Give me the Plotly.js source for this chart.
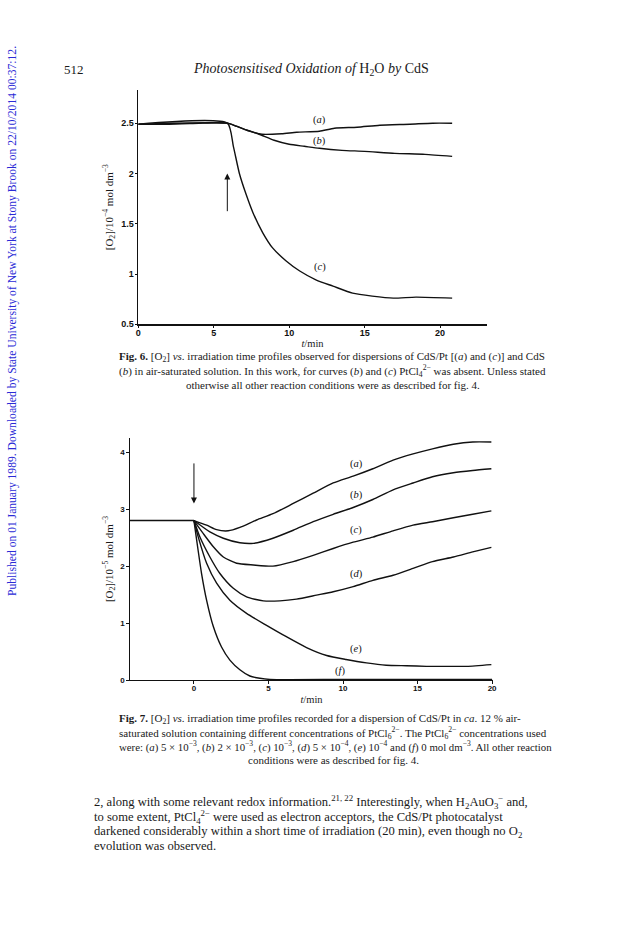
<!DOCTYPE html>
<html>
<head>
<meta charset="utf-8">
<script src="https://cdn.plot.ly/plotly-3.0.1.min.js"></script>
<style>html,body{margin:0;padding:0;background:#fff;}#chart{width:624px;height:936px;}</style>
</head>
<body>
<div id="chart"></div>
<script>
// ---- Fig. 6 data (t/min, [O2]/1e-4 mol dm-3) ----
const fig6_t_a = [0, 2, 4, 5.2, 5.9, 6.5, 7.2, 8.2, 9.5, 10.5, 12, 13, 14.5, 16, 18, 19.5, 20.8];
const fig6_a   = [2.49, 2.49, 2.50, 2.505, 2.50, 2.47, 2.43, 2.39, 2.395, 2.41, 2.42, 2.45, 2.46, 2.48, 2.49, 2.50, 2.50];
const fig6_t_b = [0, 5.9, 6.5, 7.2, 8, 9, 10, 11, 12, 13.5, 15, 17, 19, 20.8];
const fig6_b   = [2.49, 2.50, 2.47, 2.43, 2.39, 2.33, 2.29, 2.27, 2.25, 2.23, 2.22, 2.20, 2.19, 2.17];
const fig6_t_c = [0, 5.9, 6.3, 6.7, 7.15, 7.6, 8.25, 8.9, 9.8, 10.7, 11.8, 12.9, 14.2, 15.5, 16.9, 18.4, 20.8];
const fig6_c   = [2.49, 2.50, 2.27, 2.00, 1.79, 1.61, 1.41, 1.26, 1.13, 1.03, 0.94, 0.88, 0.81, 0.78, 0.76, 0.77, 0.76];
const fig6_labels = ["(<i>a</i>)", "(<i>b</i>)", "(<i>c</i>)"];
const fig6_label_t = [12.0, 12.0, 12.05];
const fig6_label_y = [2.53, 2.32, 1.07];
const fig6_arrow = {t: 5.9, from: 1.61, to: 2.0};
const fig6_xticks = [0, 5, 10, 15, 20];
const fig6_yticks = [0.5, 1, 1.5, 2, 2.5];
const fig6_yticktext = ["0.5", "1", "1.5", "2", "2.5"];

// ---- Fig. 7 data (t/min, [O2]/1e-5 mol dm-3) ----
const fig7_pre_t = [-4.29, -2, 0];
const fig7_pre   = [2.80, 2.80, 2.80];
const fig7_t_a = [0, 0.85, 1.52, 2.3, 3.08, 4.2, 5.3, 6.66, 8.0, 9.34, 10.68, 12.0, 13.36, 14.7, 16.0, 17.4, 18.7, 19.95];
const fig7_a   = [2.80, 2.72, 2.64, 2.62, 2.68, 2.81, 2.92, 3.10, 3.28, 3.46, 3.58, 3.71, 3.86, 3.97, 4.06, 4.14, 4.18, 4.18];
const fig7_t_b = [0, 1.07, 1.97, 3.08, 3.98, 5.3, 6.66, 8.0, 9.34, 10.68, 12.0, 13.36, 14.7, 16.0, 17.4, 18.7, 19.95];
const fig7_b   = [2.80, 2.60, 2.49, 2.41, 2.40, 2.49, 2.63, 2.78, 2.91, 3.03, 3.17, 3.34, 3.46, 3.57, 3.64, 3.68, 3.71];
const fig7_t_c = [0, 0.63, 1.3, 1.97, 2.86, 3.98, 5.3, 6.66, 8.0, 9.34, 10.68, 12.0, 13.36, 14.7, 16.0, 17.4, 18.7, 19.95];
const fig7_c   = [2.80, 2.57, 2.34, 2.16, 2.05, 2.02, 2.00, 2.08, 2.19, 2.31, 2.42, 2.51, 2.62, 2.72, 2.78, 2.85, 2.91, 2.97];
const fig7_t_d = [0, 0.4, 1.07, 1.74, 2.64, 3.53, 4.65, 5.76, 6.88, 8.22, 9.34, 10.68, 12.0, 13.36, 14.7, 16.0, 17.4, 18.7, 19.95];
const fig7_d   = [2.80, 2.51, 2.16, 1.87, 1.61, 1.46, 1.39, 1.39, 1.42, 1.49, 1.55, 1.64, 1.75, 1.84, 1.96, 2.08, 2.16, 2.25, 2.33];
const fig7_t_e = [0, 0.29, 0.85, 1.52, 2.41, 3.53, 4.87, 6.2, 7.55, 8.9, 10.2, 11.57, 12.9, 14.25, 15.6, 16.9, 18.3, 19.95];
const fig7_e   = [2.80, 2.51, 2.05, 1.70, 1.40, 1.17, 0.96, 0.76, 0.57, 0.43, 0.36, 0.30, 0.26, 0.25, 0.24, 0.24, 0.24, 0.27];
const fig7_t_f = [0, 0.18, 0.51, 0.85, 1.3, 1.85, 2.41, 3.08, 3.75, 4.42, 5.1, 10, 15, 20];
const fig7_f   = [2.80, 2.46, 1.87, 1.40, 0.94, 0.58, 0.35, 0.18, 0.07, 0.03, 0.01, 0.01, 0.01, 0.01];
const fig7_labels = ["(<i>a</i>)", "(<i>b</i>)", "(<i>c</i>)", "(<i>d</i>)", "(<i>e</i>)", "(<i>f</i>)"];
const fig7_label_t = [10.9, 10.9, 10.9, 10.9, 10.9, 9.8];
const fig7_label_y = [3.80, 3.25, 2.63, 1.86, 0.54, 0.15];
const fig7_arrow = {t: 0, from: 3.83, to: 3.1};
const fig7_xticks = [0, 5, 10, 15, 20];
const fig7_yticks = [0, 1, 2, 3, 4];

// ---- page text ----
const pageNumber = "512";
const runningHead = "<i>Photosensitised Oxidation of</i> H<sub>2</sub>O <i>by</i> CdS";
const sideNote = "Published on 01 January 1989. Downloaded by State University of New York at Stony Brook on 22/10/2014 00:37:12.";
const fig6Caption = [
  "<b>Fig. 6.</b> [O<sub>2</sub>] <i>vs</i>. irradiation time profiles observed for dispersions of CdS/Pt [(<i>a</i>) and (<i>c</i>)] and CdS",
  "(<i>b</i>) in air-saturated solution. In this work, for curves (<i>b</i>) and (<i>c</i>) PtCl<sub>4</sub><sup>2−</sup> was absent. Unless stated",
  "otherwise all other reaction conditions were as described for fig. 4."
];
const fig7Caption = [
  "<b>Fig. 7.</b> [O<sub>2</sub>] <i>vs</i>. irradiation time profiles recorded for a dispersion of CdS/Pt in <i>ca</i>. 12 % air-",
  "saturated solution containing different concentrations of PtCl<sub>6</sub><sup>2−</sup>. The PtCl<sub>6</sub><sup>2−</sup> concentrations used",
  "were: (<i>a</i>) 5 × 10<sup>−3</sup>, (<i>b</i>) 2 × 10<sup>−3</sup>, (<i>c</i>) 10<sup>−3</sup>, (<i>d</i>) 5 × 10<sup>−4</sup>, (<i>e</i>) 10<sup>−4</sup> and (<i>f</i>) 0 mol dm<sup>−3</sup>. All other reaction",
  "conditions were as described for fig. 4."
];
const bodyText = [
  "2, along with some relevant redox information.<sup>21, 22</sup> Interestingly, when H<sub>2</sub>AuO<sub>3</sub><sup>−</sup> and,",
  "to some extent, PtCl<sub>4</sub><sup>2−</sup> were used as electron acceptors, the CdS/Pt photocatalyst",
  "darkened considerably within a short time of irradiation (20 min), even though no O<sub>2</sub>",
  "evolution was observed."
];

// ---- layout helpers (page pixels -> paper fraction) ----
const W = 624, H = 936;
const px = x => x / W;
const py = y => 1 - y / H;

const lineStyle = {color: '#111', width: 1.4, shape: 'spline', smoothing: 0.6};
function curve(t, y, xa, ya) {
  return {x: t, y: y, type: 'scatter', mode: 'lines', line: lineStyle, xaxis: xa, yaxis: ya, hoverinfo: 'skip'};
}

const traces = [
  curve(fig6_t_a, fig6_a, 'x', 'y'),
  curve(fig6_t_b, fig6_b, 'x', 'y'),
  curve(fig6_t_c, fig6_c, 'x', 'y'),
  curve(fig7_pre_t, fig7_pre, 'x2', 'y2'),
  curve(fig7_t_a, fig7_a, 'x2', 'y2'),
  curve(fig7_t_b, fig7_b, 'x2', 'y2'),
  curve(fig7_t_c, fig7_c, 'x2', 'y2'),
  curve(fig7_t_d, fig7_d, 'x2', 'y2'),
  curve(fig7_t_e, fig7_e, 'x2', 'y2'),
  curve(fig7_t_f, fig7_f, 'x2', 'y2')
];

const serif = 'Liberation Serif, Times New Roman, serif';
const tickFont = {family: 'Liberation Sans, Arial, sans-serif', size: 9, color: '#111', weight: 'bold'};
const axisCommon = {showline: true, linecolor: '#111', linewidth: 1.3, showgrid: false, zeroline: false,
  ticks: 'outside', ticklen: 2.5, tickwidth: 1, tickcolor: '#111', tickfont: tickFont, fixedrange: true};

const annotations = [];
// curve labels
fig6_labels.forEach((s, i) => annotations.push({xref: 'x', yref: 'y', x: fig6_label_t[i], y: fig6_label_y[i], text: s,
  showarrow: false, font: {family: serif, size: 10.5, color: '#111'}}));
fig7_labels.forEach((s, i) => annotations.push({xref: 'x2', yref: 'y2', x: fig7_label_t[i], y: fig7_label_y[i], text: s,
  showarrow: false, font: {family: serif, size: 10.5, color: '#111'}}));
// arrows
annotations.push({xref: 'x', yref: 'y', axref: 'x', ayref: 'y', x: fig6_arrow.t, y: fig6_arrow.to,
  ax: fig6_arrow.t, ay: fig6_arrow.from, text: '', showarrow: true, arrowhead: 2, arrowsize: 1.2, arrowwidth: 1, arrowcolor: '#111'});
annotations.push({xref: 'x2', yref: 'y2', axref: 'x2', ayref: 'y2', x: fig7_arrow.t, y: fig7_arrow.to,
  ax: fig7_arrow.t, ay: fig7_arrow.from, text: '', showarrow: true, arrowhead: 2, arrowsize: 1.2, arrowwidth: 1, arrowcolor: '#111'});

// page text
const textColor = '#1a1a1a';
annotations.push({xref: 'paper', yref: 'paper', x: px(62), y: py(70), xanchor: 'left', yanchor: 'middle',
  text: pageNumber, showarrow: false, font: {family: serif, size: 13, color: textColor}});
annotations.push({xref: 'paper', yref: 'paper', x: px(311), y: py(70), xanchor: 'center', yanchor: 'middle',
  text: runningHead, showarrow: false, font: {family: serif, size: 14, color: textColor}});
annotations.push({xref: 'paper', yref: 'paper', x: px(12), y: py(321), xanchor: 'center', yanchor: 'middle',
  text: sideNote, textangle: -90, showarrow: false, font: {family: serif, size: 11.6, color: '#2a2ad6'}});

const capSize = 11;
const cap6Y = [357, 371, 385];
fig6Caption.forEach((s, i) => annotations.push({xref: 'paper', yref: 'paper',
  x: i < 2 ? px(117) : px(333), xanchor: i < 2 ? 'left' : 'center', y: py(cap6Y[i]), yanchor: 'middle',
  text: s, showarrow: false, font: {family: serif, size: capSize, color: textColor}}));
const cap7Y = [719, 732.5, 746, 759.5];
const cap7Size = [11, 11, 10.8, 11];
fig7Caption.forEach((s, i) => annotations.push({xref: 'paper', yref: 'paper',
  x: i < 3 ? px(117) : px(333), xanchor: i < 3 ? 'left' : 'center', y: py(cap7Y[i]), yanchor: 'middle',
  text: s, showarrow: false, font: {family: serif, size: cap7Size[i], color: textColor}}));
const bodyY = [802, 817, 832, 846];
bodyText.forEach((s, i) => annotations.push({xref: 'paper', yref: 'paper', x: px(92), xanchor: 'left',
  y: py(bodyY[i]), yanchor: 'middle', text: s, showarrow: false, font: {family: serif, size: 12.6, color: textColor}}));

const layout = {
  width: W, height: H,
  margin: {l: 0, r: 0, t: 0, b: 0},
  paper_bgcolor: '#ffffff', plot_bgcolor: 'rgba(0,0,0,0)',
  showlegend: false,
  xaxis: Object.assign({}, axisCommon, {domain: [px(138.3), px(486.7)], range: [0, 23.09], anchor: 'y',
    tickvals: fig6_xticks, ticktext: fig6_xticks.map(String), ticklabelstandoff: -3,
    title: {text: '<i>t</i>/min', font: {family: serif, size: 10.5, color: textColor}, standoff: 2}}),
  yaxis: Object.assign({}, axisCommon, {domain: [py(324.3), py(90)], range: [0.5, 2.83], anchor: 'x',
    tickvals: fig6_yticks, ticktext: fig6_yticktext, ticklabelstandoff: -1,
    title: {text: '[O<sub>2</sub>]/10<sup>−4</sup> mol dm<sup>−3</sup>', font: {family: serif, size: 11, color: textColor}, standoff: 5}}),
  xaxis2: Object.assign({}, axisCommon, {domain: [px(130), px(493)], range: [-4.29, 20.06], anchor: 'y2',
    tickvals: fig7_xticks, ticktext: fig7_xticks.map(String), tickfont: Object.assign({}, tickFont, {size: 8}), ticklabelstandoff: -2,
    title: {text: '<i>t</i>/min', font: {family: serif, size: 10.5, color: textColor}, standoff: 3}}),
  yaxis2: Object.assign({}, axisCommon, {domain: [py(680), py(438)], range: [0, 4.25], anchor: 'x2',
    tickvals: fig7_yticks, ticktext: fig7_yticks.map(String), tickfont: Object.assign({}, tickFont, {size: 8}),
    title: {text: '[O<sub>2</sub>]/10<sup>−5</sup> mol dm<sup>−3</sup>', font: {family: serif, size: 11, color: textColor}, standoff: 4}}),
  annotations: annotations
};

Plotly.newPlot('chart', traces, layout, {staticPlot: true, displayModeBar: false});
</script>
</body>
</html>
